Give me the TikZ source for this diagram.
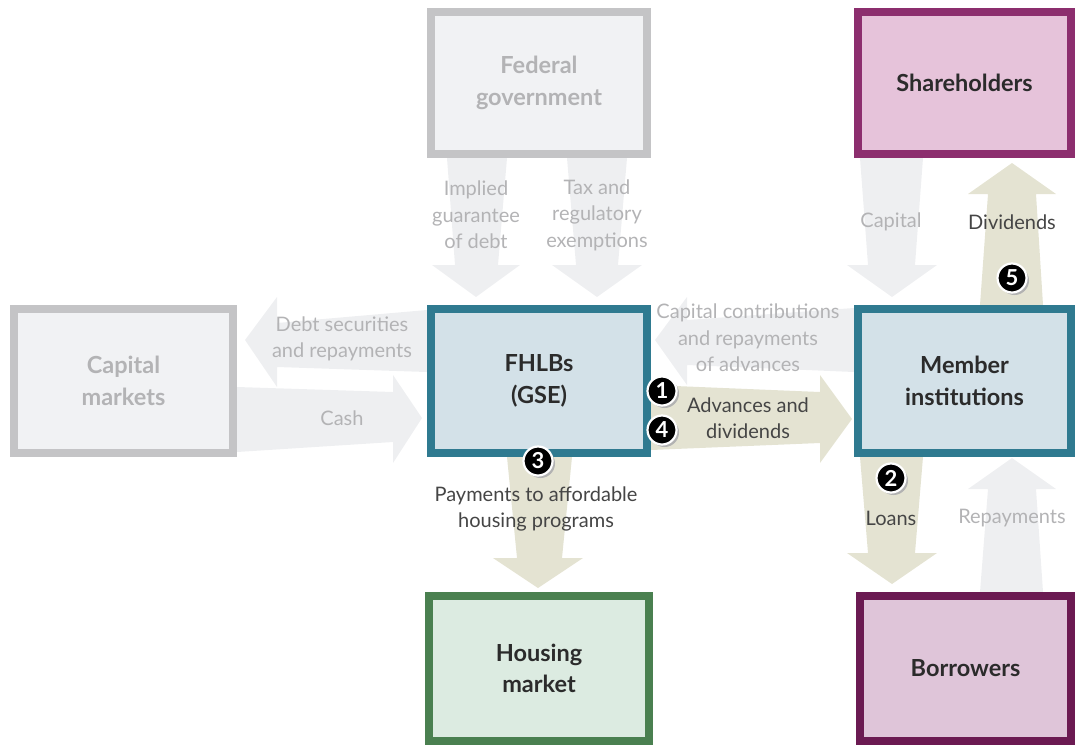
\documentclass[tikz,border=0pt]{standalone}
\usepackage{fontspec}
\setmainfont{Lato}
\usetikzlibrary{shadows}
\definecolor{gbord}{HTML}{C4C4C6}
\definecolor{gfill}{HTML}{F1F2F4}
\definecolor{gtext}{HTML}{B3B3B5}
\definecolor{garrow}{HTML}{EEEFF1}
\definecolor{karrow}{HTML}{E4E3D2}
\definecolor{tbord}{HTML}{2F7A90}
\definecolor{tfill}{HTML}{D3E1E8}
\definecolor{sbord}{HTML}{8C2E6E}
\definecolor{sfill}{HTML}{E6C3DA}
\definecolor{bbord}{HTML}{6B1A52}
\definecolor{bfill}{HTML}{DFC5D9}
\definecolor{hbord}{HTML}{4A8050}
\definecolor{hfill}{HTML}{DCEBE1}
\definecolor{dtext}{HTML}{2B2B2B}
\definecolor{ltext}{HTML}{454545}
\tikzset{
  box/.style={draw, line width=8pt, rectangle, align=center, inner sep=0pt,
    font=\fontsize{23.5}{31.5}\selectfont\bfseries, text=dtext},
  graybox/.style={box, draw=gbord, fill=gfill, text=gtext},
  glabel/.style={align=center, font=\fontsize{20}{26.5}\selectfont, text=gtext, inner sep=0pt},
  dlabel/.style={glabel, text=ltext},
  garr/.style={fill=garrow, draw=none},
  karr/.style={fill=karrow, draw=none},
  badge/.style={circle, fill=black, draw=white, line width=2.2pt, text=white,
    inner sep=0pt, minimum size=29pt, font=\fontsize{22}{22}\selectfont\bfseries,
    drop shadow={shadow xshift=2.5pt, shadow yshift=-2.5pt, fill=black!30, opacity=1}}
}
\begin{document}
\begin{tikzpicture}[x=1pt,y=-1pt]
\useasboundingbox (0,0) rectangle (1075,745);
% arrows
\fill[garr] (447,158) -- (507,158) -- (498,265) -- (520,265) -- (476,297) -- (432,265) -- (455,265) -- cycle;
\fill[garr] (567,158) -- (627,158) -- (618,265) -- (642,265) -- (597,297) -- (552,265) -- (576,265) -- cycle;
\fill[garr] (860,158) -- (923,158) -- (915,265) -- (937,265) -- (892,297) -- (847,265) -- (868,265) -- cycle;
\fill[karr] (980,305) -- (1043,305) -- (1036,194) -- (1056,194) -- (1012,163) -- (968,194) -- (988,194) -- cycle;
\fill[garr] (427,310) -- (277,323) -- (277,297) -- (245,340) -- (277,387) -- (277,367) -- (427,372) -- cycle;
\fill[garr] (237,387) -- (393,392) -- (393,375) -- (422,418) -- (393,463) -- (393,442) -- (237,452) -- cycle;
\fill[garr] (854,308) -- (687,320) -- (687,297) -- (655,340) -- (687,385) -- (687,365) -- (854,372) -- cycle;
\fill[karr] (651,385) -- (820,392) -- (820,375) -- (852,419) -- (820,463) -- (820,443) -- (651,450) -- cycle;
\fill[karr] (507,457) -- (572,457) -- (562,558) -- (583,558) -- (538,588) -- (493,558) -- (517,558) -- cycle;
\fill[karr] (860,457) -- (923,457) -- (915,553) -- (937,553) -- (892,584) -- (847,553) -- (868,553) -- cycle;
\fill[garr] (980,592) -- (1043,592) -- (1036,489) -- (1056,489) -- (1012,458) -- (968,489) -- (988,489) -- cycle;
% boxes
\node[graybox, minimum width=216pt, minimum height=142pt] (fed) at (539,83) {Federal\\government};
\node[box, draw=sbord, fill=sfill, minimum width=213pt, minimum height=142pt] (share) at (964.5,83) {Shareholders};
\node[graybox, minimum width=219pt, minimum height=144pt] (cap) at (123.5,381) {Capital\\markets};
\node[box, draw=tbord, fill=tfill, minimum width=216pt, minimum height=144pt] (fhlb) at (539,381) {FHLBs\\(GSE)};
\node[box, draw=tbord, fill=tfill, minimum width=213pt, minimum height=144pt] (mem) at (964.5,381) {Member\\institutions};
\node[box, draw=hbord, fill=hfill, minimum width=220pt, minimum height=145pt] (house) at (539,668.5) {Housing\\market};
\node[box, draw=bbord, fill=bfill, minimum width=211pt, minimum height=145pt] (borr) at (965.5,668.5) {Borrowers};
% labels
\node[glabel] (l1) at (476,215) {Implied\\guarantee\\of debt};
\node[glabel] (l2) at (597,215) {Tax and\\regulatory\\exemptions};
\node[glabel] (l3) at (891,222) {Capital};
\node[dlabel] (l4) at (1012,222) {Dividends};
\node[glabel] (l5) at (342,339) {Debt securities\\and repayments};
\node[glabel] (l6) at (342,418) {Cash};
\node[glabel] (l7) at (748,338) {Capital contributions\\and repayments\\of advances};
\node[dlabel] (l8) at (748,418) {Advances and\\dividends};
\node[dlabel] (l9) at (536,509) {Payments to affordable\\housing programs};
\node[dlabel] (l10) at (891,518) {Loans};
\node[glabel] (l11) at (1012,518) {Repayments};
% badges
\node[badge] (b1) at (662,391) {1};
\node[badge] (b4) at (662,430) {4};
\node[badge] (b3) at (538,461) {3};
\node[badge] (b2) at (891,478) {2};
\node[badge] (b5) at (1012,278) {5};
\end{tikzpicture}
\end{document}
